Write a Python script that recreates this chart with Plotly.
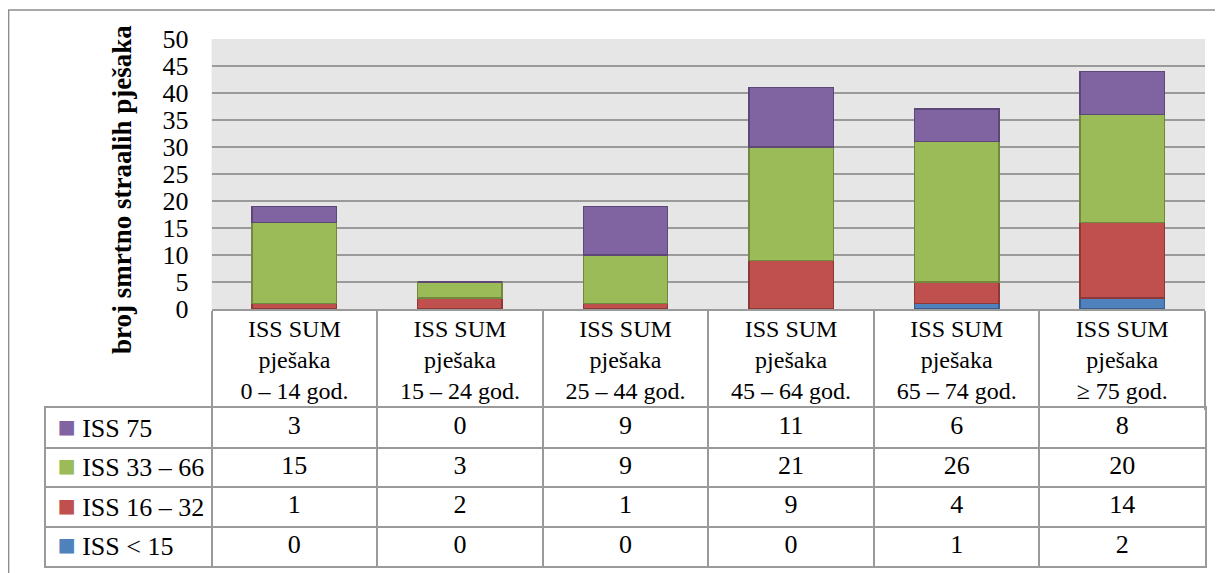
import plotly.graph_objects as go

# ---- data ----
ages = ["0 – 14 god.", "15 – 24 god.", "25 – 44 god.", "45 – 64 god.", "65 – 74 god.", "≥ 75 god."]
header_labels = ["ISS SUM<br>pješaka<br>" + a for a in ages]
series = ["ISS < 15", "ISS 16 – 32", "ISS 33 – 66", "ISS 75"]
series_labels = ["ISS &lt; 15", "ISS 16 – 32", "ISS 33 – 66", "ISS 75"]
iss_lt15 = [0, 0, 0, 0, 1, 2]
iss_16_32 = [1, 2, 1, 9, 4, 14]
iss_33_66 = [15, 3, 9, 21, 26, 20]
iss_75 = [3, 0, 9, 11, 6, 8]
values = [iss_lt15, iss_16_32, iss_33_66, iss_75]
colors = ["#4F81BD", "#C0504D", "#9BBB59", "#8064A2"]
edges = ["#385D8A", "#8C3836", "#71893F", "#5C4776"]
y_title = "broj smrtno straalih pješaka"
legend_col = "legend"

# the page body adds an 8px offset; size the figure to the visible area
OFF = 8
W, H = 1223 - OFF, 573 - OFF
FONT = "Liberation Serif, Times New Roman, serif"
GRID = "#9a9a9a"

fig = go.Figure()

for name, vals, c, e in zip(series, values, colors, edges):
    fig.add_trace(go.Bar(
        x=ages, y=vals, name=name, marker=dict(color=c, line=dict(color=e, width=1.5)),
        width=0.51, xaxis="x", yaxis="y", showlegend=False, hoverinfo="skip"))

# data table cells
for name, vals in zip(series, values):
    fig.add_trace(go.Scatter(
        x=ages, y=[name] * len(ages), text=[str(v) for v in vals], mode="text",
        textfont=dict(family=FONT, size=26, color="black"),
        xaxis="x2", yaxis="y2", showlegend=False, hoverinfo="skip"))

# reference-pixel -> paper helpers
px = lambda v: (v - OFF) / W
py = lambda v: 1 - (v - OFF) / H

tick_text = ['<span style="color:%s;font-size:30px">■</span> %s' % (c, s) for c, s in zip(colors, series_labels)]

fig.update_layout(
    width=W, height=H,
    margin=dict(l=0, r=0, t=0, b=0, autoexpand=False),
    paper_bgcolor="white", plot_bgcolor="white",
    font=dict(family=FONT, size=26, color="black"),
    barmode="stack", showlegend=False,
    xaxis=dict(
        domain=[px(211.6), px(1205)], type="category", categoryorder="array", categoryarray=ages,
        tickvals=ages, ticktext=header_labels, tickson="boundaries",
        ticks="outside", ticklen=99, tickcolor=GRID, tickwidth=1.5,
        ticklabelstandoff=-3, automargin=False,
        showline=True, linecolor=GRID, linewidth=1.5, showgrid=False,
        range=[-0.5, 5.5], tickfont=dict(family=FONT, size=24, color="black"),
        anchor="y"),
    yaxis=dict(
        domain=[py(309), py(39)], range=[0, 50], tickvals=list(range(0, 51, 5)),
        showgrid=True, gridcolor=GRID, gridwidth=1.5, zeroline=False, automargin=False,
        ticks="", ticklabelstandoff=22, tickfont=dict(family=FONT, size=26, color="black"),
        anchor="x"),
    xaxis2=dict(
        domain=[px(46), px(1205)], type="category", categoryorder="array",
        categoryarray=[legend_col] + ages, range=[-0.5, 6.5], tickson="boundaries",
        showticklabels=False, ticks="", showgrid=True, gridcolor=GRID, gridwidth=1.5,
        showline=True, mirror=True, linecolor=GRID, linewidth=1.5, zeroline=False,
        automargin=False, anchor="y2"),
    yaxis2=dict(
        domain=[py(566), py(408)], type="category", categoryorder="array", categoryarray=series,
        range=[-0.5, 3.5], tickson="boundaries", tickvals=series, ticktext=tick_text,
        ticklabelposition="inside", ticklabelstandoff=14, ticks="",
        tickfont=dict(family=FONT, size=26, color="black"),
        showgrid=True, gridcolor=GRID, gridwidth=1.5,
        showline=True, mirror=True, linecolor=GRID, linewidth=1.5, zeroline=False,
        automargin=False, anchor="x2"),
    annotations=[
        dict(text="<b>%s</b>" % y_title, xref="paper", yref="paper", x=px(122), y=py(190),
             xanchor="center", yanchor="middle", textangle=-90, showarrow=False,
             font=dict(family=FONT, size=27, color="black")),
    ],
    shapes=[
        dict(type="rect", xref="x domain", yref="y domain", x0=0, x1=1, y0=0, y1=1,
             fillcolor="#e6e6e6", line=dict(width=0), layer="below"),
        dict(type="rect", xref="paper", yref="paper", x0=0.6 / W, x1=1.05, y0=-0.05, y1=py(10),
             line=dict(color="#8c8c8c", width=1.5), fillcolor="rgba(0,0,0,0)", layer="above"),
    ],
)

fig.write_html("out.html")
